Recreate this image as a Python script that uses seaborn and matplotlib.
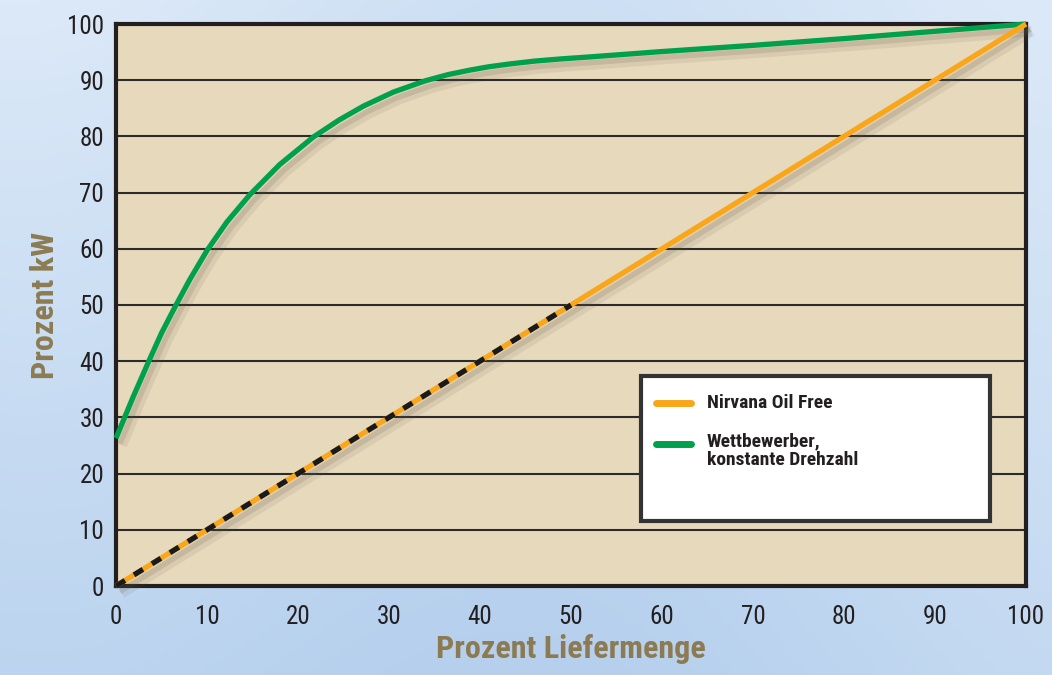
import matplotlib
matplotlib.use("Agg")
import matplotlib.pyplot as plt
import matplotlib.patheffects as pe
from matplotlib.patches import Rectangle
from matplotlib.lines import Line2D
import seaborn as sns
import pandas as pd
import numpy as np

# Werte
liefermenge_wettb = [0, 1.9, 3.55, 5, 6.5, 8.1, 10, 12.2, 14.7, 18, 21.7,
                     24.5, 27.2, 30.5, 34, 36.5, 38.9, 41, 43.3, 46, 49, 52.1,
                     60, 70, 80, 90, 100]
kw_wettb = [26.3, 33.7, 39.8, 45, 49.7, 54.5, 59.7, 64.8, 69.6, 75.0, 79.9,
            82.9, 85.4, 87.9, 89.9, 91.0, 91.8, 92.4, 92.9, 93.4, 93.8, 94.15,
            95.1, 96.2, 97.4, 98.7, 100]
liefermenge_nirvana = [0, 50, 100]
kw_nirvana = [0, 50, 100]
liefermenge_gestrichelt = [0, 50]
kw_gestrichelt = [0, 50]
ticks = [0, 10, 20, 30, 40, 50, 60, 70, 80, 90, 100]
legende = ['Nirvana Oil Free', 'Wettbewerber,\nkonstante Drehzahl']

orange = '#F9A61B'
gruen = '#00A04D'
braun = '#8C7B52'
dunkel = '#231f20'

sns.set_style("white")
plt.rcParams['font.family'] = ['Roboto Condensed', 'DejaVu Sans']

fig = plt.figure(figsize=(10.52, 6.75), dpi=100)

# Hintergrund (Himmel)
bg = fig.add_axes([0, 0, 1, 1], zorder=-10)
gx, gy = np.meshgrid(np.linspace(0, 1, 200), np.linspace(0, 1, 200))
verlauf = 0.5 * gy + 0.3 * np.sin(gx * 3.0) ** 2 + 0.2 * (1 - gx) * gy
himmel = matplotlib.colors.LinearSegmentedColormap.from_list(
    'himmel', ['#dce9f8', '#c6dbf2', '#b5cfed'])
bg.imshow(verlauf, cmap=himmel, aspect='auto', extent=[0, 1, 0, 1])
bg.axis('off')

ax = fig.add_axes([116 / 1052, (675 - 586) / 675, 910 / 1052, 562 / 675])
ax.set_facecolor('#e7d9bb')

schatten = [pe.SimpleLineShadow(offset=(4, -5), shadow_color='#5e5546', alpha=0.10, linewidth=8),
            pe.SimpleLineShadow(offset=(3, -4), shadow_color='#5e5546', alpha=0.16),
            pe.Normal()]

df_w = pd.DataFrame({'x': liefermenge_wettb, 'y': kw_wettb})
df_n = pd.DataFrame({'x': liefermenge_nirvana, 'y': kw_nirvana})
df_g = pd.DataFrame({'x': liefermenge_gestrichelt, 'y': kw_gestrichelt})

sns.lineplot(data=df_w, x='x', y='y', ax=ax, color=gruen, lw=3.8,
             solid_capstyle='butt', solid_joinstyle='round', path_effects=schatten,
             zorder=4, clip_on=False)
sns.lineplot(data=df_n, x='x', y='y', ax=ax, color=orange, lw=3.8,
             solid_capstyle='butt', path_effects=schatten, zorder=4, clip_on=False)
sns.lineplot(data=df_g, x='x', y='y', ax=ax, color='#1a1a1a', lw=3.8,
             zorder=5, clip_on=False)
ax.lines[-1].set_dashes((2.0, 2.0))

ax.set_xlim(0, 100)
ax.set_ylim(0, 100)
ax.set_xticks(ticks)
ax.set_yticks(ticks)
ax.set_xticklabels([str(t) for t in ticks], fontsize=18, color=dunkel)
ax.set_yticklabels([str(t) for t in ticks], fontsize=18, color=dunkel)
ax.tick_params(axis='x', direction='in', length=15, width=2, color=dunkel, pad=14)
ax.tick_params(axis='y', length=0, pad=8.5)
ax.grid(axis='y', color='#2b2b2b', lw=1.5, zorder=1)
ax.set_axisbelow(True)
for s in ax.spines.values():
    s.set_color(dunkel)
    s.set_linewidth(3)
    s.set_visible(True)

ax.set_xlabel('Prozent Liefermenge', fontsize=23, fontweight='bold', color=braun,
              labelpad=3)
ax.set_ylabel('Prozent kW', fontsize=23, fontweight='bold', color=braun, labelpad=5)

# Legende
box = Rectangle((0.577, 0.116), 0.383, 0.258, transform=ax.transAxes,
                facecolor='white', edgecolor='#333333', lw=3, zorder=6)
ax.add_patch(box)
for farbe, text, y_linie, y_text in zip([orange, gruen], legende,
                                        [0.326, 0.253], [0.326, 0.274]):
    ax.add_line(Line2D([0.593, 0.632], [y_linie, y_linie], transform=ax.transAxes,
                       color=farbe, lw=5, solid_capstyle='round', zorder=7))
    ax.text(0.649, y_text, text, transform=ax.transAxes, fontsize=14,
            fontweight='bold', color=dunkel, va='center' if '\n' not in text else 'top',
            linespacing=1.1, zorder=7)

fig.savefig('out.png', dpi=100)
